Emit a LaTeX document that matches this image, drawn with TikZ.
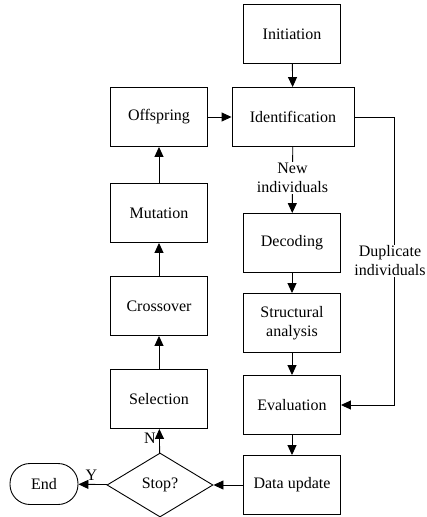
\documentclass[tikz,border=0pt]{standalone}
\usepackage{fontspec}
\setmainfont{Liberation Serif}
\usetikzlibrary{arrows.meta,shapes.geometric}

\tikzset{
  stepbox/.style={draw, line width=0.9pt, minimum width=97pt, minimum height=59pt,
    align=center, inner sep=2pt, font=\fontsize{16}{19}\selectfont},
  arr/.style={-{Triangle[width=9pt,length=10pt]}, line width=0.9pt},
  lbl/.style={font=\fontsize{16}{19}\selectfont, align=center}
}

\begin{document}
\begin{tikzpicture}[x=1pt, y=-1pt]
        \useasboundingbox (0,0) rectangle (427,517);

        % right column
        \node[stepbox] (init) at (292,34) {Initiation};
        \node[stepbox, minimum width=122pt] (ident) at (293,117) {Identification};
        \node[stepbox] (decode) at (292,243) {Decoding};
        \node[stepbox] (struct) at (292,323) {Structural\\analysis};
        \node[stepbox] (eval) at (292,405) {Evaluation};
        \node[stepbox] (update) at (292,485) {Data update};

        % left column
        \node[stepbox] (offs) at (159,117) {Offspring};
        \node[stepbox] (mut) at (159,213) {Mutation};
        \node[stepbox] (cross) at (159,306) {Crossover};
        \node[stepbox] (sel) at (159,399) {Selection};
        \node[draw, diamond, line width=0.9pt, minimum width=106pt, minimum height=64pt,
              inner sep=0pt, lbl] (stop) at (160,485) {Stop?};
        \node[draw, rounded corners=20pt, line width=0.9pt, minimum width=68pt,
              minimum height=41pt, lbl] (end) at (44,484) {End};

        \coordinate (dup1) at (394,117);
        \coordinate (dup2) at (394,405);

        \draw[arr] (init) -- (ident);
        \draw[arr] (offs) -- (ident);
        \draw[arr] (ident) -- node[lbl, fill=white, inner sep=1pt, pos=0.47] {New\\individuals} (decode);
        \draw[arr] (ident.east) -- (dup1) -- node[lbl, fill=white, inner sep=0.5pt, xshift=-4pt] {Duplicate\\individuals} (dup2) -- (eval.east);
        \draw[arr] (decode) -- (struct);
        \draw[arr] (struct) -- (eval);
        \draw[arr] (eval) -- (update);
        \draw[arr] (update) -- (stop);
        \draw[arr] (stop) -- node[lbl, above, pos=0.55] {Y} (end);
        \draw[arr] (stop) -- node[lbl, left, pos=0.6] {N} (sel);
        \draw[arr] (sel) -- (cross);
        \draw[arr] (cross) -- (mut);
        \draw[arr] (mut) -- (offs);
    \end{tikzpicture}
\end{document}
